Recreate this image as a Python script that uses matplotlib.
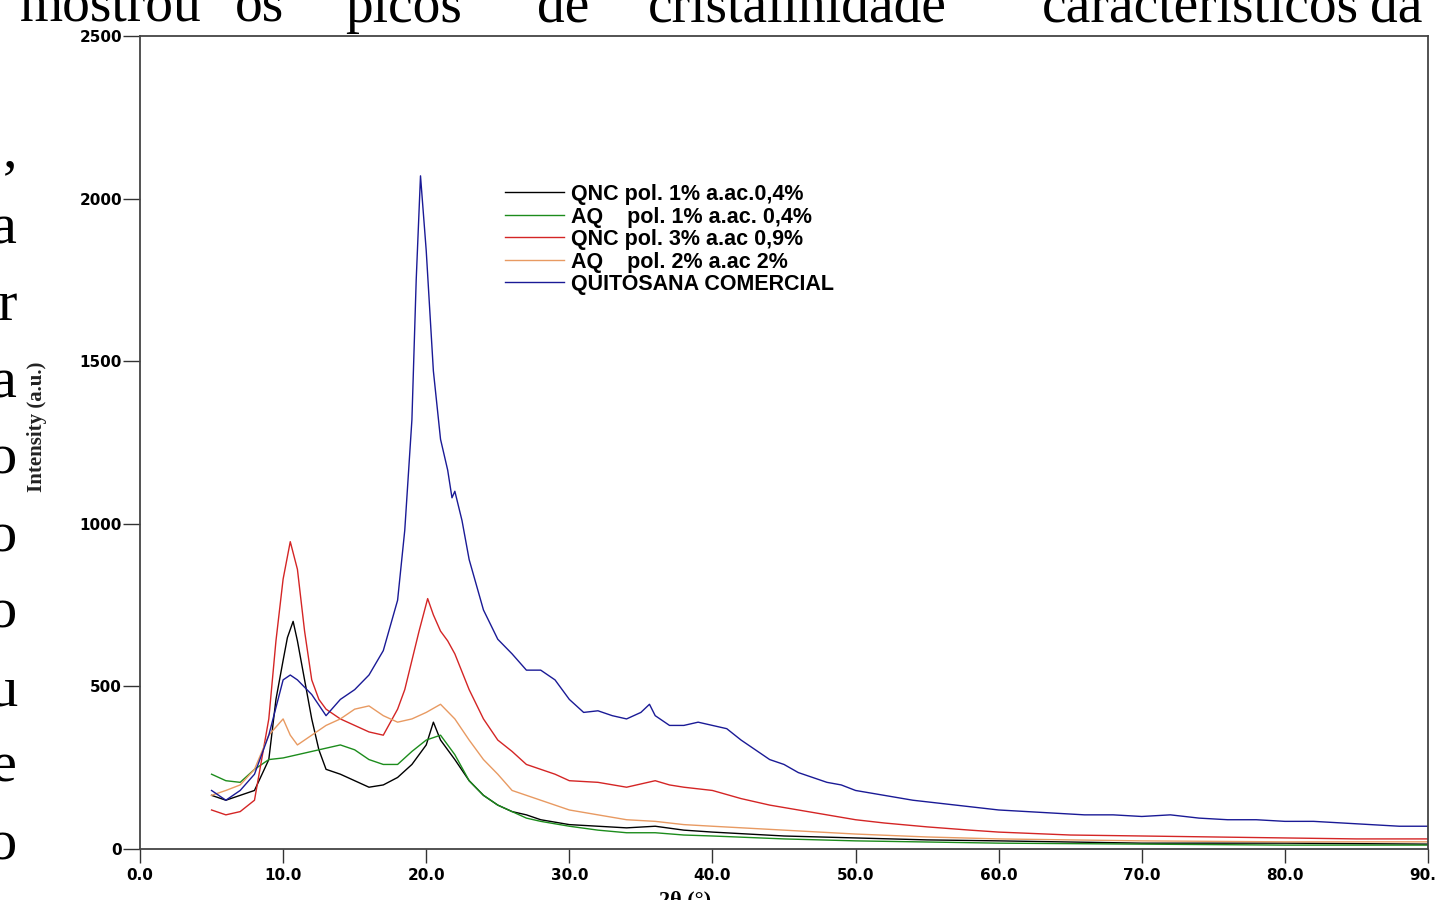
import numpy as np
import matplotlib
matplotlib.use("Agg")
from matplotlib import pyplot as plt

# difratogramas (2 theta em graus, intensidade em u.a.)
x_qnc1 = [5, 6, 7, 8, 9, 9.5, 10, 10.3, 10.7, 11, 11.5, 12, 12.5, 13, 14, 15, 16, 17, 18, 19, 20,
          20.5, 21, 22, 23, 24, 25, 26, 27, 28, 30, 32, 34, 36, 38, 40, 45, 50, 55, 60, 70, 80, 90]
y_qnc1 = [165, 150, 165, 180, 275, 460, 580, 650, 700, 640, 520, 400, 305, 245, 230, 210, 190, 197,
          220, 260, 320, 390, 335, 275, 210, 165, 135, 115, 105, 90, 75, 70, 65, 70, 58, 52, 40, 34,
          28, 25, 18, 18, 15]

x_aq1 = [5, 6, 7, 8, 9, 10, 11, 12, 13, 14, 15, 16, 17, 18, 19, 20, 21, 22, 23, 24, 25, 26, 27, 28,
         30, 32, 34, 36, 38, 40, 45, 50, 60, 70, 80, 90]
y_aq1 = [230, 210, 205, 245, 275, 280, 290, 300, 310, 320, 305, 275, 260, 260, 300, 335, 350, 290,
         210, 165, 135, 115, 95, 85, 70, 58, 50, 50, 43, 40, 31, 25, 18, 15, 12, 12]

x_qnc3 = [5, 6, 7, 8, 9, 9.5, 10, 10.5, 11, 11.5, 12, 12.5, 13, 14, 15, 16, 17, 18, 18.5, 19, 19.5,
          20.1, 20.5, 21, 21.5, 22, 23, 24, 25, 26, 27, 28, 29, 30, 32, 34, 36, 37, 38, 40, 42, 44,
          46, 48, 50, 52, 55, 58, 60, 65, 70, 75, 80, 85, 90]
y_qnc3 = [120, 105, 115, 150, 400, 640, 830, 945, 860, 670, 520, 460, 430, 400, 380, 360, 350, 430,
          490, 580, 670, 770, 720, 670, 640, 600, 490, 400, 335, 300, 260, 245, 230, 210, 205, 190,
          210, 197, 190, 180, 155, 135, 120, 105, 90, 80, 68, 58, 52, 43, 40, 37, 34, 31, 31]

x_aq2 = [5, 6, 7, 8, 9, 10, 10.5, 11, 12, 13, 14, 15, 16, 17, 18, 19, 20, 21, 22, 23, 24, 25, 26,
         27, 28, 30, 32, 34, 36, 38, 40, 45, 50, 55, 60, 70, 80, 90]
y_aq2 = [165, 180, 197, 245, 350, 400, 350, 320, 350, 380, 400, 430, 440, 410, 390, 400, 420, 445,
         400, 335, 275, 230, 180, 165, 150, 120, 105, 90, 85, 75, 70, 58, 46, 37, 31, 25, 22, 22]

x_qc = [5, 6, 7, 8, 9, 10, 10.5, 11, 12, 13, 14, 15, 16, 17, 18, 18.5, 19, 19.3, 19.6, 20, 20.5,
        21, 21.5, 21.8, 22, 22.5, 23, 24, 25, 26, 27, 28, 29, 30, 31, 32, 33, 34, 35, 35.6, 36, 37,
        38, 39, 40, 41, 42, 43, 44, 45, 46, 47, 48, 49, 50, 52, 54, 56, 58, 60, 62, 64, 66, 68, 70,
        72, 74, 76, 78, 80, 82, 84, 86, 88, 90]
y_qc = [180, 150, 180, 230, 350, 520, 535, 520, 475, 410, 460, 490, 535, 610, 765, 980, 1320, 1750,
        2070, 1840, 1470, 1260, 1165, 1080, 1100, 1010, 890, 735, 645, 600, 550, 550, 520, 460, 420,
        425, 410, 400, 420, 445, 410, 380, 380, 390, 380, 370, 335, 305, 275, 260, 235, 220, 205,
        197, 180, 165, 150, 140, 130, 120, 115, 110, 105, 105, 100, 105, 95, 90, 90, 85, 85, 80, 75,
        70, 70]

series = [
    (x_qnc1, y_qnc1, "#000000", "QNC pol. 1% a.ac.0,4%"),
    (x_aq1, y_aq1, "#1c8c1c", "AQ    pol. 1% a.ac. 0,4%"),
    (x_qnc3, y_qnc3, "#d42525", "QNC pol. 3% a.ac 0,9%"),
    (x_aq2, y_aq2, "#e89a62", "AQ    pol. 2% a.ac 2%"),
    (x_qc, y_qc, "#1a1a96", "QUITOSANA COMERCIAL"),
]

xticks = [0, 10, 20, 30, 40, 50, 60, 70, 80, 90]
yticks = [0, 500, 1000, 1500, 2000, 2500]

# palavras do paragrafo em volta da figura
palavras_topo = ["mostrou", "os", "picos", "de", "cristalinidade", "característicos", "da"]
x_palavras = [20, 235, 345, 537, 648, 1042, 1370]
letras_margem = [",", "a", "r", "a", "o", "o", "o", "u", "e", "o"]

W, H = 1436, 900
fig = plt.figure(figsize=(W / 100, H / 100), dpi=100)
ax = fig.add_axes([140 / W, 1 - 849 / H, (1428 - 140) / W, (849 - 36) / H])

for xs, ys, cor, nome in series:
    ax.plot(xs, ys, color=cor, lw=1.0, label=nome)

ax.set_xlim(0, 90)
ax.set_ylim(0, 2500)
ax.set_xticks(xticks)
ax.set_xticklabels(["%.1f" % v for v in xticks])
ax.set_yticks(yticks)
ax.set_yticklabels([str(v) for v in yticks])
ax.tick_params(axis="y", direction="out", length=12, width=1, pad=1, colors="#333333")
ax.tick_params(axis="x", direction="out", length=10, width=1, pad=4, colors="#333333")
for lab in ax.get_xticklabels() + ax.get_yticklabels():
    lab.set_fontfamily("DejaVu Sans")
    lab.set_fontweight("bold")
    lab.set_fontsize(11)
    lab.set_color("black")
for s in ax.spines.values():
    s.set_color("#444444")
    s.set_linewidth(1.3)

leg = ax.legend(loc="upper left", bbox_to_anchor=(505 / W, 1 - 184 / H),
                bbox_transform=fig.transFigure, frameon=False, borderpad=0,
                borderaxespad=0, handlelength=2.75, handletextpad=0.3, labelspacing=0.07,
                prop={"family": "Liberation Sans", "weight": "bold", "size": 15.5})

fig.text(37 / W, 1 - 427 / H, "Intensity (a.u.)", rotation=90, ha="center", va="center",
         family="Liberation Serif", weight="bold", fontsize=15, color="#222222")
fig.text(685 / W, 1 - 905 / H, "2θ (°)", ha="center", va="baseline",
         family="Liberation Serif", weight="bold", fontsize=16)

for palavra, xp in zip(palavras_topo, x_palavras):
    fig.text(xp / W, 1 - 22 / H, palavra, ha="left", va="baseline",
             family="Liberation Serif", fontsize=40)

for i, letra in enumerate(letras_margem):
    fig.text(17 / W, 1 - (166 + 77 * i) / H, letra, ha="right", va="baseline",
             family="Liberation Serif", fontsize=42)

fig.savefig("out.png", dpi=100)
